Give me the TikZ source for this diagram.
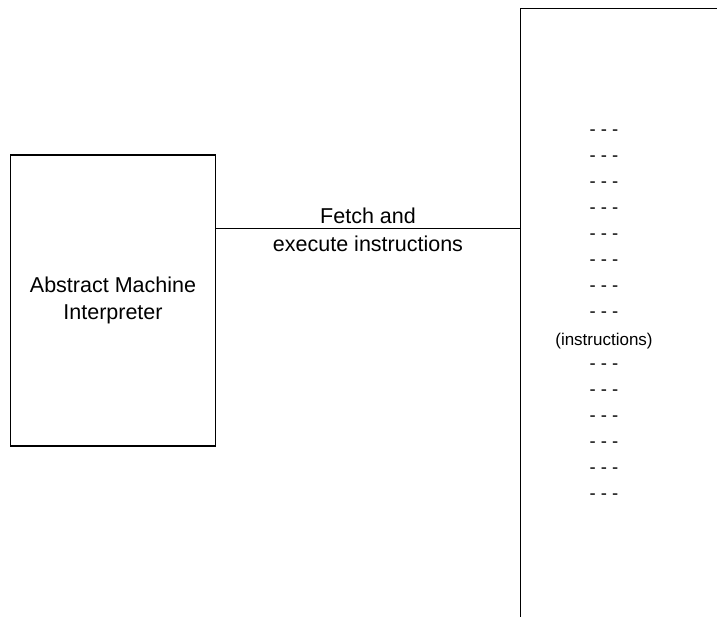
\documentclass[tikz,border=0pt]{standalone}
\usepackage{fontspec}
\setmainfont{Liberation Sans}
\begin{document}
\begin{tikzpicture}[x=1pt,y=-1pt,
  every node/.style={font=\fontsize{21.5}{27}\selectfont},
  edge/.style={line width=1.3pt,black},
  lbl/.style={inner sep=0pt,align=center},
  dashrow/.style={inner sep=0pt,font=\fontsize{18.5}{27}\selectfont}]
\useasboundingbox (0,0) rectangle (717,617);
% interpreter box
\node[draw,line width=1.3pt,minimum width=205pt,minimum height=291pt,inner sep=0pt,align=center] (interp) at (113,300.5) {Abstract Machine\\Interpreter};
% memory region (open at right and bottom)
\node[minimum width=196pt,minimum height=608pt,inner sep=0pt] (mem) at (619,313) {};
\draw[edge] (mem.north east) -- (mem.north west) -- (mem.south west);
% connector
\coordinate (ca) at (interp.east |- 0,229);
\coordinate (cb) at (mem.west |- 0,229);
\draw[edge,line width=1pt] (ca) -- (cb);
\node[lbl,font=\fontsize{21.5}{28}\selectfont] (fetch) at (368,229.5) {Fetch and\\execute instructions};
% instructions
\foreach \y [count=\i] in {133,159,185,211,237,263,289,315,367,393,419,445,471,497}
  \node[dashrow] (d\i) at (604,\y) {- - -};
\node[dashrow,font=\fontsize{17}{27}\selectfont] (instr) at (604,341) {(instructions)};
\end{tikzpicture}
\end{document}
